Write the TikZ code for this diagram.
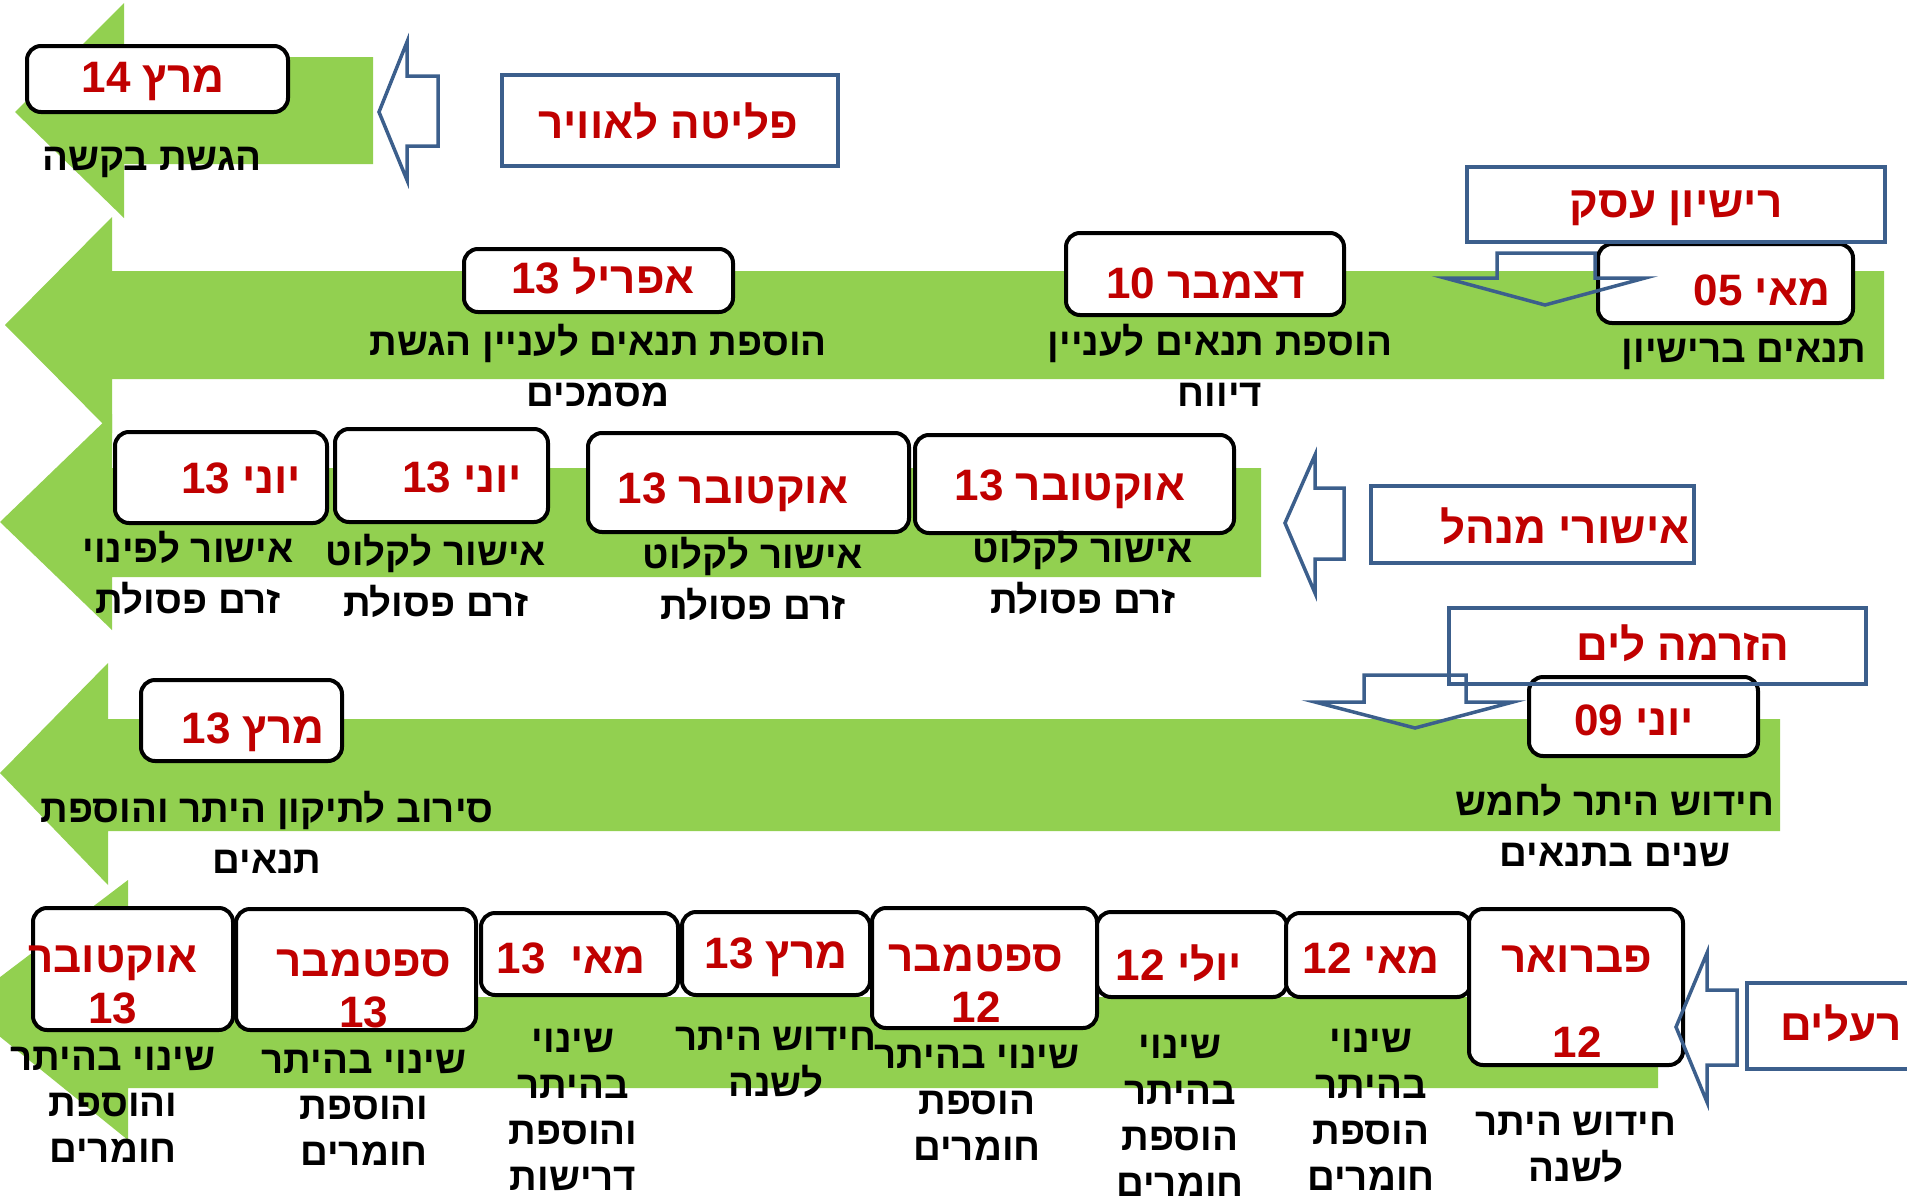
\documentclass[tikz,border=0pt]{standalone}
\usepackage{fontspec}
\newfontfamily\hebfont[Script=Hebrew]{Liberation Sans}
\TeXXeTstate=1
\definecolor{arrgreen}{HTML}{92D050}
\definecolor{datered}{HTML}{C00000}
\definecolor{flowblue}{HTML}{3C5F8C}
\newcommand\heb[1]{\beginR #1\endR}
\begin{document}
\begin{tikzpicture}[x=1pt,y=-1pt,line join=miter,
  greenarrow/.style={fill=arrgreen},
  datebox/.style={draw=black,line width=4pt,rounded corners=14pt,fill=white,inner sep=0pt},
  bluebox/.style={draw=flowblue,line width=3.5pt,inner sep=0pt},
  bluearrow/.style={draw=flowblue,line width=3.5pt},
  redtext/.style={text=datered,font=\hebfont\bfseries\fontsize{44}{51}\selectfont,inner sep=0pt,anchor=base,align=center},
  labeltext/.style={text=black,font=\hebfont\bfseries\fontsize{38.5}{46}\selectfont,inner sep=0pt,anchor=base,align=center},
  labelwide/.style={labeltext,font=\hebfont\bfseries\fontsize{38.5}{51}\selectfont}]
\useasboundingbox (0,0) rectangle (1907,1202);
% ---------- green timeline arrows ----------
\begin{scope}
\clip (0,0) rectangle (1907,1202);
\fill[greenarrow] (15,112) -- (124,3) -- (124,57) -- (373,57) -- (373,164) -- (124,164) -- (124,218) -- cycle;
\fill[greenarrow] (5,325) -- (112,217) -- (112,271) -- (1884,271) -- (1884,379) -- (112,379) -- (112,433) -- cycle;
\fill[greenarrow] (0,522) -- (112,414) -- (112,468) -- (1261,468) -- (1261,577) -- (112,577) -- (112,630) -- cycle;
\fill[greenarrow] (0,773) -- (108,663) -- (108,719) -- (1780,719) -- (1780,831) -- (108,831) -- (108,885) -- cycle;
\fill[greenarrow] (-38,1006) -- (128,880) -- (128,997) -- (1658,997) -- (1658,1088) -- (128,1088) -- (128,1140) -- cycle;
\end{scope}
% ---------- date boxes ----------
\node[datebox,minimum width=261pt,minimum height=66pt] (bM14) at (157.5,79) {};
\node[datebox,minimum width=269pt,minimum height=63pt] (bA13) at (598.5,280.5) {};
\node[datebox,minimum width=278pt,minimum height=82pt] (bD10) at (1205,274) {};
\node[datebox,minimum width=255pt,minimum height=79pt] (bM05) at (1725.5,283.5) {};
\node[datebox,minimum width=212pt,minimum height=91pt] (bJa13) at (221,477.5) {};
\node[datebox,minimum width=213pt,minimum height=93pt] (bJb13) at (441.5,475.5) {};
\node[datebox,minimum width=321pt,minimum height=99pt] (bOa13) at (748.5,482.5) {};
\node[datebox,minimum width=319pt,minimum height=98pt] (bOb13) at (1074.5,484) {};
\node[datebox,minimum width=201pt,minimum height=81pt] (bMr13) at (241.5,720.5) {};
\node[datebox,minimum width=229pt,minimum height=79pt] (bJ09) at (1643.5,716.5) {};
\node[datebox,minimum width=200pt,minimum height=122pt] (bO13) at (133,969) {};
\node[datebox,minimum width=240pt,minimum height=121pt] (bS13) at (356,969.5) {};
\node[datebox,minimum width=197pt,minimum height=82pt] (bMy13) at (579.5,954) {};
\node[datebox,minimum width=188pt,minimum height=83pt] (bMc13) at (776,953.5) {};
\node[datebox,minimum width=225pt,minimum height=120pt] (bS12) at (984.5,968) {};
\node[datebox,minimum width=190pt,minimum height=85pt] (bJl12) at (1192,954.5) {};
\node[datebox,minimum width=185pt,minimum height=84pt] (bMy12) at (1378.5,955) {};
\node[datebox,minimum width=214pt,minimum height=156pt] (bF12) at (1576,987) {};
% ---------- red date texts (base = baseline of last line) ----------
\node[redtext] (tM14) at (153,92) {\heb{מרץ 14}};
\node[redtext] (tA13) at (603,293) {\heb{אפריל 13}};
\node[redtext] (tD10) at (1206,298) {\heb{דצמבר 10}};
\node[redtext] (tM05) at (1762,305) {\heb{מאי 05}};
\node[redtext] (tJa13) at (241,493) {\heb{יוני 13}};
\node[redtext] (tJb13) at (462,492) {\heb{יוני 13}};
\node[redtext] (tOa13) at (733,503) {\heb{אוקטובר 13}};
\node[redtext] (tOb13) at (1070,500) {\heb{אוקטובר 13}};
\node[redtext] (tMr13) at (253,743) {\heb{מרץ 13}};
\node[redtext] (tJ09) at (1634,735) {\heb{יוני 09}};
\node[redtext] (tO13) at (113,1023) {\heb{אוקטובר}\\\heb{13}};
\node[redtext] (tS13) at (364,1027) {\heb{ספטמבר}\\\heb{13}};
\node[redtext] (tMy13) at (571,973) {\heb{מאי~~13}};
\node[redtext] (tMc13) at (776,968) {\heb{מרץ 13}};
\node[redtext] (tS12) at (976,1022) {\heb{ספטמבר}\\\heb{12}};
\node[redtext] (tJl12) at (1179,980) {\heb{יולי 12}};
\node[redtext] (tMy12) at (1371,973) {\heb{מאי 12}};
\node[redtext] (tF12) at (1577,1057) {\heb{פברואר}\\[34pt]\heb{12}};
% ---------- black labels ----------
\node[labeltext] (lM14) at (152,170) {\heb{הגשת בקשה}};
\node[labelwide] (lA13) at (598,406) {\heb{הוספת תנאים לעניין הגשת}\\\heb{מסמכים}};
\node[labelwide] (lD10) at (1220,406) {\heb{הוספת תנאים לעניין}\\\heb{דיווח}};
\node[labeltext] (lM05) at (1744,362) {\heb{תנאים ברישיון}};
\node[labelwide] (lJa13) at (188,613) {\heb{אישור לפינוי}\\\heb{זרם פסולת}};
\node[labelwide] (lJb13) at (436,616) {\heb{אישור לקלוט}\\\heb{זרם פסולת}};
\node[labelwide] (lOa13) at (753,619) {\heb{אישור לקלוט}\\\heb{זרם פסולת}};
\node[labelwide] (lOb13) at (1083,613) {\heb{אישור לקלוט}\\\heb{זרם פסולת}};
\node[labelwide] (lMr13) at (267,873) {\heb{סירוב לתיקון היתר והוספת}\\\heb{תנאים}};
\node[labelwide] (lJ09) at (1615,866) {\heb{חידוש היתר לחמש}\\\heb{שנים בתנאים}};
\node[labeltext] (lO13) at (113,1162) {\heb{שינוי בהיתר}\\\heb{והוספת}\\\heb{חומרים}};
\node[labeltext] (lS13) at (364,1165) {\heb{שינוי בהיתר}\\\heb{והוספת}\\\heb{חומרים}};
\node[labeltext] (lMy13) at (573,1190) {\heb{שינוי}\\\heb{בהיתר}\\\heb{והוספת}\\\heb{דרישות}};
\node[labeltext] (lMc13) at (776,1096) {\heb{חידוש היתר}\\\heb{לשנה}};
\node[labeltext] (lS12) at (977,1160) {\heb{שינוי בהיתר}\\\heb{הוספת}\\\heb{חומרים}};
\node[labeltext] (lJl12) at (1180,1196) {\heb{שינוי}\\\heb{בהיתר}\\\heb{הוספת}\\\heb{חומרים}};
\node[labeltext] (lMy12) at (1371,1190) {\heb{שינוי}\\\heb{בהיתר}\\\heb{הוספת}\\\heb{חומרים}};
\node[labeltext] (lF12) at (1576,1181) {\heb{חידוש היתר}\\\heb{לשנה}};
% ---------- blue category boxes ----------
\node[bluebox,minimum width=336pt,minimum height=91pt] (cAir) at (670,120.5) {};
\node[redtext] (tAir) at (668,138) {\heb{פליטה לאוויר}};
\node[bluebox,minimum width=418pt,minimum height=75pt] (cLic) at (1676,204.5) {};
\node[redtext] (tLic) at (1676,217) {\heb{רישיון עסק}};
\node[bluebox,minimum width=323pt,minimum height=77pt] (cMgr) at (1532.5,524.5) {};
\node[redtext] (tMgr) at (1565,543) {\heb{אישורי מנהל}};
\node[bluebox,minimum width=417pt,minimum height=76pt] (cSea) at (1657.5,646) {};
\node[redtext] (tSea) at (1683,660) {\heb{הזרמה לים}};
\node[bluebox,minimum width=183pt,minimum height=86pt] (cTox) at (1838.5,1026) {};
\node[redtext] (tTox) at (1841,1040) {\heb{רעלים}};
% ---------- blue block arrows ----------
\draw[bluearrow] (379,112) -- (407,42) -- (407,76) -- (438,76) -- (438,146) -- (407,146) -- (407,180) -- cycle;
\draw[bluearrow] (1497,253) -- (1595,253) -- (1595,278) -- (1645,278) -- (1545,305) -- (1445,278) -- (1497,278) -- cycle;
\draw[bluearrow] (1285,523) -- (1315,455) -- (1315,488) -- (1344,488) -- (1344,559) -- (1315,559) -- (1315,593) -- cycle;
\draw[bluearrow] (1364,675) -- (1466,675) -- (1466,702) -- (1513,702) -- (1415,728) -- (1315,702) -- (1364,702) -- cycle;
\draw[bluearrow] (1676,1027) -- (1707,953) -- (1707,990) -- (1737,990) -- (1737,1065) -- (1707,1065) -- (1707,1102) -- cycle;
\end{tikzpicture}
\end{document}
